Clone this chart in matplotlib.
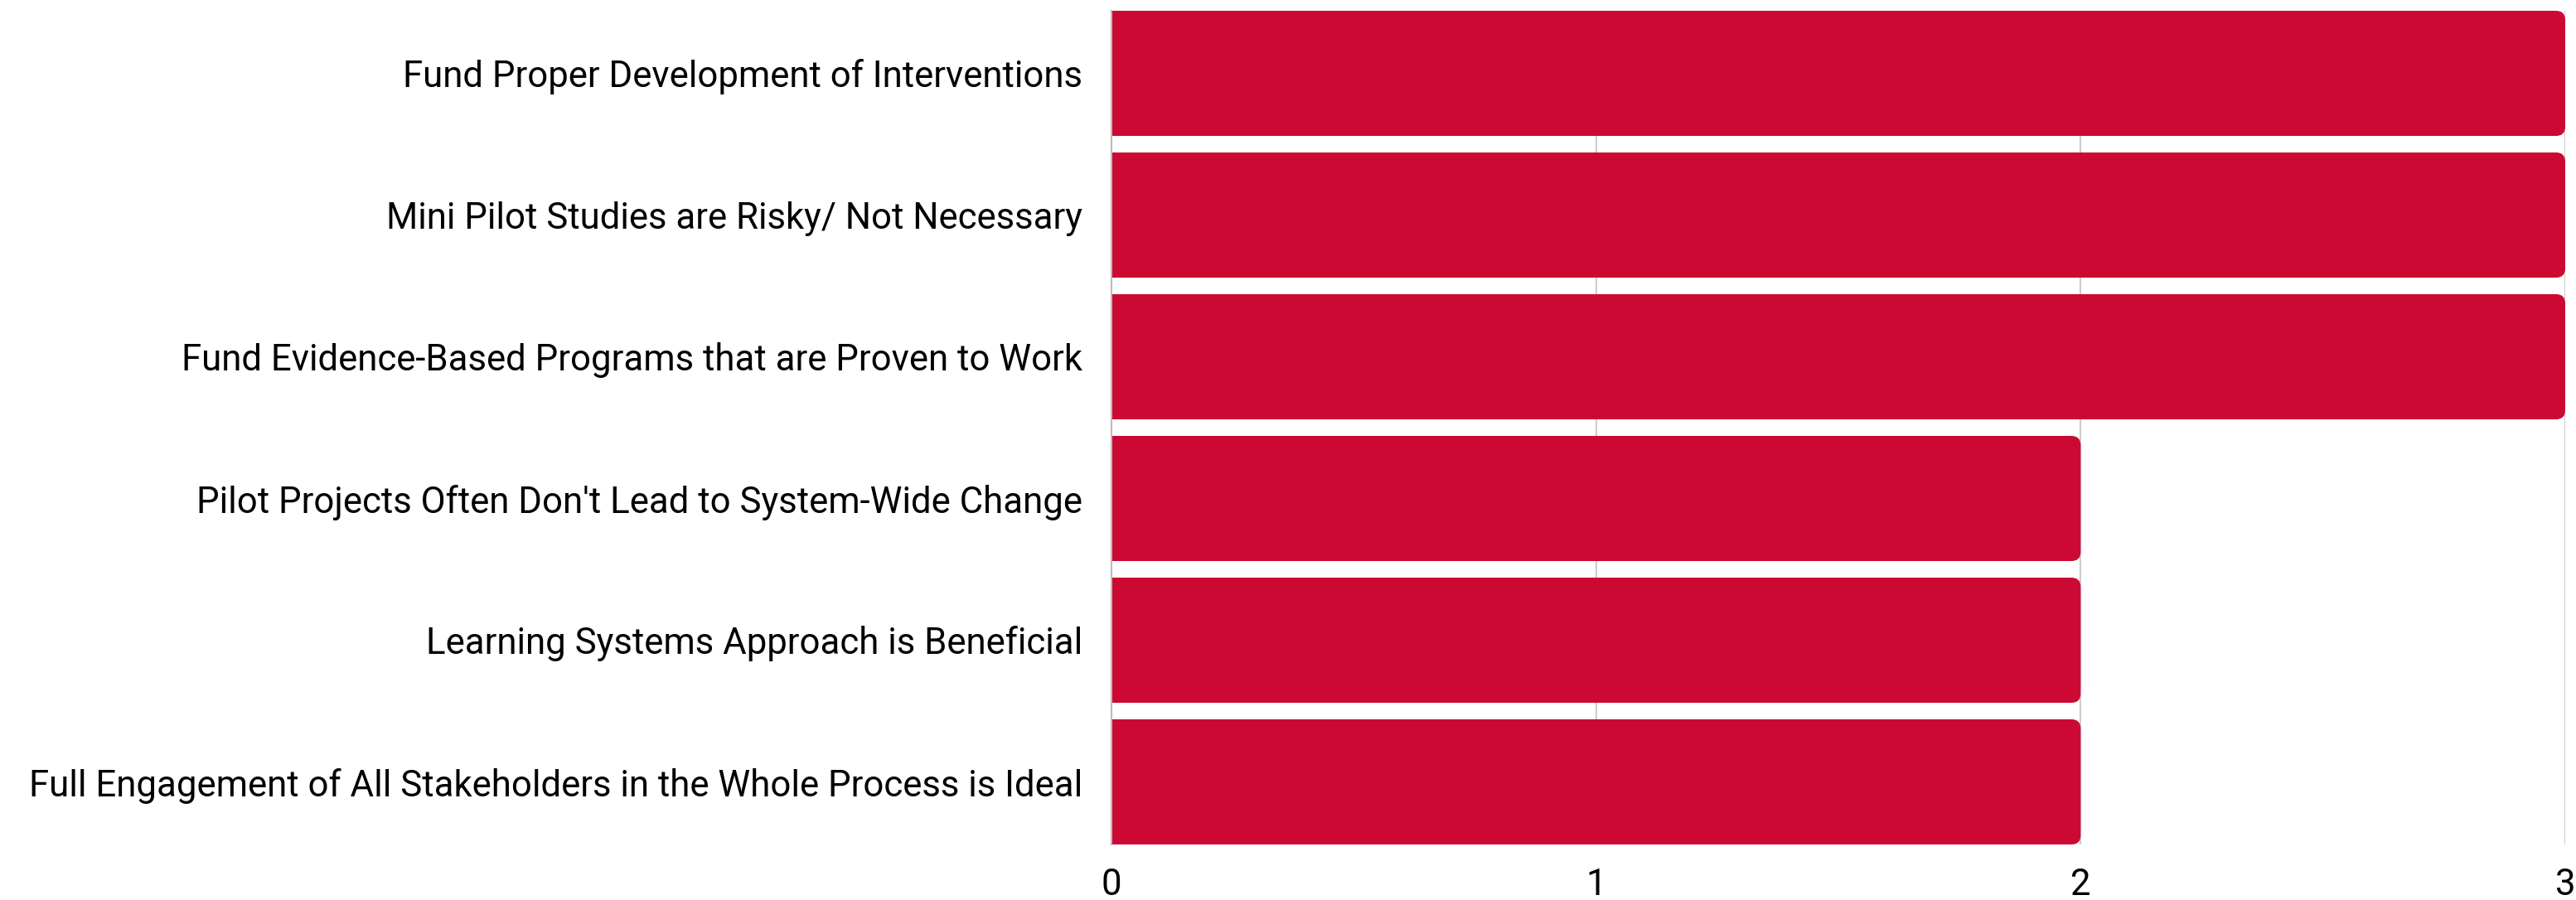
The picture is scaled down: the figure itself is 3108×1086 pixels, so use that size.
import matplotlib
matplotlib.use("Agg")
import matplotlib.pyplot as plt
from matplotlib.path import Path
from matplotlib.patches import PathPatch

categories = [
    "Fund Proper Development of Interventions",
    "Mini Pilot Studies are Risky/ Not Necessary",
    "Fund Evidence-Based Programs that are Proven to Work",
    "Pilot Projects Often Don't Lead to System-Wide Change",
    "Learning Systems Approach is Beneficial",
    "Full Engagement of All Stakeholders in the Whole Process is Ideal",
]
values = [3, 3, 3, 2, 2, 2]
xticks = [0, 1, 2, 3]

plt.rcParams['font.family'] = ['Roboto', 'DejaVu Sans']

W, H = 3108, 1086
fig = plt.figure(figsize=(W / 100, H / 100), dpi=100)
left, right, top, bottom = 1341, 3095, 13, 1019
ax = fig.add_axes([left / W, 1 - bottom / H, (right - left) / W, (bottom - top) / H])

bar_h = 151 / 171
ypos = list(range(len(categories)))[::-1]
bars = ax.barh(ypos, values, height=bar_h, color='none', edgecolor='none', zorder=2)

ax.set_xlim(0, 3)
ax.set_ylim(-bar_h / 2, len(categories) - 1 + bar_h / 2)

# rounded right corners
px_per_x = (right - left) / 3
px_per_y = (bottom - top) / (len(categories) - 1 + bar_h)
r_px = 11
rx, ry = r_px / px_per_x, r_px / px_per_y
for b in bars:
    x0, y0 = b.get_x(), b.get_y()
    w, h = b.get_width(), b.get_height()
    x1, y1 = x0 + w, y0 + h
    verts = [(x0, y0), (x1 - rx, y0), (x1, y0), (x1, y0 + ry), (x1, y1 - ry),
             (x1, y1), (x1 - rx, y1), (x0, y1), (x0, y0)]
    codes = [Path.MOVETO, Path.LINETO, Path.CURVE3, Path.CURVE3, Path.LINETO,
             Path.CURVE3, Path.CURVE3, Path.LINETO, Path.CLOSEPOLY]
    ax.add_patch(PathPatch(Path(verts, codes), facecolor='#cc0933', edgecolor='none', zorder=2))

ax.set_xticks(xticks)
ax.set_xticklabels([str(t) for t in xticks])
ax.set_yticks(ypos)
ax.set_yticklabels(categories)
ax.tick_params(axis='both', length=0, labelsize=31.5, labelcolor='black')
ax.tick_params(axis='y', pad=25)
ax.tick_params(axis='x', pad=20)
for lbl in ax.get_yticklabels():
    lbl.set_y(lbl.get_position()[1])
ax.xaxis.grid(True, color='#cccccc', linewidth=1.5, zorder=0)
ax.set_axisbelow(True)
for s in ['top', 'right', 'bottom']:
    ax.spines[s].set_visible(False)
ax.spines['left'].set_color('#bbbbbb')
ax.spines['left'].set_linewidth(1.5)

fig.savefig('out.png', dpi=100, facecolor='white')
